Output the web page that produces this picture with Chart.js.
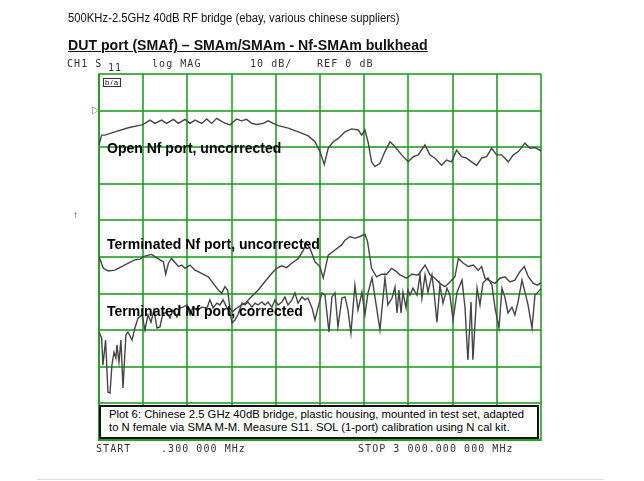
<!DOCTYPE html>
<html>
<head>
<meta charset="utf-8">
<script src="https://cdn.jsdelivr.net/npm/chart.js@4/dist/chart.umd.min.js"></script>
<style>
  body { margin: 0; background: #fff; }
  #wrap { position: relative; width: 644px; height: 481px; overflow: hidden; font-family: 'Liberation Sans', Arial, sans-serif; }
  #chart { position: absolute; left: 0; top: 0; }
  .t { position: absolute; white-space: nowrap; color: #111; transform-origin: 0 0; }
  .mono { font-family: 'DejaVu Sans Mono', monospace; font-size: 10px; color: #333; letter-spacing: 1.05px; }
  .lbl { font-weight: bold; font-size: 14px; color: #000; }
  #caption { position: absolute; left: 99px; top: 405px; width: 428px; height: 29px; background: #fff; border: 2px solid #111; font-size: 11.3px; line-height: 13px; padding: 1px 0 0 8px; box-sizing: content-box; white-space: nowrap; }
</style>
</head>
<body>
<div id="wrap">
  <canvas id="chart" width="644" height="481"></canvas>
  <div class="t" style="left:68px;top:11px;font-size:12px;transform:scaleX(0.94);">500KHz-2.5GHz 40dB RF bridge (ebay, various chinese suppliers)</div>
  <div class="t" style="left:68px;top:37px;font-size:14.5px;font-weight:bold;text-decoration:underline;transform:scaleX(0.975);">DUT port (SMAf) – SMAm/SMAm - Nf-SMAm bulkhead</div>
  <div class="t mono" style="left:67px;top:58px;">CH1 S</div>
  <div class="t mono" style="left:108px;top:62px;">11</div>
  <div class="t mono" style="left:152px;top:58px;">log MAG</div>
  <div class="t mono" style="left:250px;top:58px;">10 dB/</div>
  <div class="t mono" style="left:317px;top:58px;">REF 0 dB</div>
  <div class="t" style="left:103px;top:78px;font-size:8px;border:1px solid #333;line-height:7px;padding:0 1px;letter-spacing:1px;">b/a</div>
  <div class="t" style="left:92px;top:104px;font-size:10px;color:#3a3;">&#9655;</div>
  <div class="t" style="left:73px;top:209px;font-size:10px;color:#333;">&#8593;</div>
  <div class="t lbl" style="left:107px;top:140px;">Open Nf port, uncorrected</div>
  <div class="t lbl" style="left:107px;top:236px;">Terminated Nf port, uncorrected</div>
  <div class="t lbl" style="left:107px;top:303px;">Terminated Nf port, corrected</div>
  <div id="caption">Plot 6: Chinese 2.5 GHz 40dB bridge, plastic housing, mounted in test set, adapted<br>to N female via SMA M-M. Measure S11. SOL (1-port) calibration using N cal kit.</div>
  <div class="t mono" style="left:96px;top:443px;">START</div>
  <div class="t mono" style="left:161px;top:443px;">.300 000 MHz</div>
  <div class="t mono" style="left:358px;top:443px;">STOP 3 000.000 000 MHz</div>
  <div style="position:absolute;left:37px;top:479px;width:567px;height:1px;background:#ddd;"></div>
</div>
<script>
const startMHz = 0.3
const stopMHz = 3000
const refDb = 0
const dbPerDiv = 10

const openFreq = [0.3, 18, 41, 109, 199, 290, 312, 346, 380, 425, 459, 505, 539, 584, 618, 652, 697, 731, 765, 799,
  844, 889, 934, 968, 1002, 1036, 1070, 1115, 1149, 1183, 1217, 1285, 1353, 1421, 1466, 1500, 1529, 1556, 1590, 1624,
  1670, 1715, 1760, 1783, 1805, 1828, 1850, 1873, 1907, 1941, 1975, 2009, 2054, 2099, 2133, 2167, 2212, 2246, 2280, 2326,
  2359, 2393, 2427, 2461, 2495, 2529, 2563, 2597, 2631, 2665, 2699, 2733, 2778, 2812, 2846, 2891, 2925, 2959, 3000]
const openDb = [-9.4, -6.7, -6.7, -5.8, -4.7, -3.9, -3.5, -2.6, -3.5, -2.6, -3.5, -2.4, -3.5, -2.4, -3.5, -2.6, -3.5, -2.3, -3.5, -2.1,
  -3.2, -3.9, -2.3, -2.8, -2.4, -3.5, -3.8, -3.5, -2.8, -3.5, -4.1, -4.8, -5.8, -6.9, -8.5, -11.2, -14.7, -10.3, -8.5, -7.6,
  -5.8, -5.0, -5.3, -6.7, -5.3, -8.9, -14.0, -15.3, -14.4, -11.2, -8.5, -9.9, -12.1, -14.0, -12.6, -12.1, -9.4, -12.1, -13.0, -14.9,
  -13.5, -14.0, -10.8, -12.6, -13.0, -14.0, -15.0, -13.0, -12.6, -10.3, -12.1, -12.1, -14.0, -12.1, -11.2, -8.9, -10.3, -10.1, -11.0]

const termFreq = [0.3, 29.5, 63, 109, 154, 199, 244, 278, 301, 335, 358, 380, 414, 437, 453, 471, 493, 516, 539, 561,
  584, 618, 652, 697, 742, 776, 810, 833, 855, 873, 889, 905, 934, 968, 991, 1036, 1081, 1127, 1172, 1206,
  1240, 1274, 1308, 1353, 1387, 1409, 1432, 1466, 1500, 1522, 1556, 1602, 1647, 1670, 1703, 1737, 1771, 1805, 1823, 1850,
  1884, 1918, 1952, 1986, 2020, 2043, 2088, 2122, 2167, 2213, 2247, 2280, 2314, 2348, 2382, 2416, 2439, 2473, 2507, 2541,
  2574, 2597, 2620, 2665, 2688, 2722, 2755, 2789, 2823, 2857, 2887, 2914, 2948, 2977, 3000]
const termDb = [-39.9, -43.1, -43.8, -43.6, -42.6, -41.7, -40.8, -40.6, -39.9, -39.5, -39.3, -39.9, -40.8, -41.3, -44.7, -41.7, -40.4, -41.5, -42.6, -42.2,
  -43.1, -42.2, -43.6, -44.5, -45.4, -47.2, -49.0, -49.9, -48.1, -49.0, -54.0, -55.0, -54.0, -53.1, -52.7, -50.8, -49.0, -46.7, -44.5, -43.1,
  -42.4, -42.9, -41.7, -40.4, -38.1, -36.3, -37.6, -41.3, -42.6, -45.7, -39.5, -38.1, -36.7, -35.4, -34.4, -34.9, -34.4, -33.8, -35.8, -43.1,
  -45.4, -44.7, -44.7, -43.1, -44.0, -44.9, -45.8, -44.7, -44.9, -42.2, -44.9, -45.8, -47.2, -48.1, -46.8, -45.4, -40.4, -41.7, -42.6, -42.2,
  -43.6, -42.6, -45.8, -46.8, -47.2, -45.8, -45.4, -46.8, -46.3, -44.0, -42.6, -45.4, -47.2, -47.7, -47.0]

const corrFreq = [0.3, 18, 27, 45, 61, 75, 88, 102, 115, 122, 136, 149, 163, 183, 197, 224, 244, 265, 292, 312,
  333, 353, 373, 394, 414, 434, 462, 482, 502, 529, 550, 570, 597, 618, 638, 665, 699, 733, 753, 774,
  801, 821, 842, 869, 889, 903, 923, 943, 971, 991, 1011, 1038, 1059, 1079, 1106, 1127, 1147, 1174, 1195, 1215,
  1242, 1262, 1283, 1310, 1330, 1351, 1378, 1398, 1418, 1446, 1466, 1486, 1514, 1534, 1561, 1581, 1602, 1622, 1649, 1670,
  1690, 1710, 1737, 1758, 1785, 1805, 1826, 1853, 1873, 1907, 1941, 1961, 1989, 2009, 2023, 2036, 2050, 2063, 2084, 2097,
  2111, 2131, 2158, 2179, 2192, 2213, 2233, 2260, 2274, 2294, 2314, 2335, 2362, 2382, 2403, 2430, 2464, 2484, 2504, 2525,
  2538, 2566, 2586, 2606, 2640, 2667, 2688, 2715, 2735, 2756, 2776, 2803, 2823, 2844, 2871, 2891, 2912, 2939, 2959, 2979, 3000]
const corrDb = [-60.5, -62.1, -69.5, -62.7, -76.9, -77.2, -69.5, -66.0, -67.6, -64.0, -68.7, -62.7, -75.8, -61.3, -60.5, -62.7, -59.4, -56.7, -55.8, -59.9,
  -55.8, -57.8, -54.5, -59.4, -59.1, -55.3, -55.3, -56.7, -54.5, -56.4, -53.9, -53.7, -53.1, -55.8, -53.7, -54.5, -53.7, -53.9, -51.7, -53.9,
  -52.6, -53.1, -51.7, -53.9, -55.0, -58.0, -57.2, -55.8, -52.6, -53.1, -52.3, -53.7, -52.6, -53.1, -52.3, -53.1, -52.3, -53.7, -51.7, -53.1,
  -52.3, -50.9, -53.1, -51.7, -49.8, -52.6, -50.9, -51.7, -51.2, -53.9, -57.2, -53.9, -49.8, -50.4, -60.5, -50.9, -49.8, -59.1, -51.2, -50.9,
  -54.5, -60.8, -47.7, -54.5, -49.6, -55.8, -49.8, -45.7, -50.9, -59.9, -45.7, -53.1, -51.2, -48.2, -55.3, -49.0, -55.3, -49.6, -53.9, -49.0,
  -50.4, -48.5, -50.4, -44.9, -51.2, -44.9, -49.6, -44.9, -49.6, -57.8, -47.7, -52.6, -48.5, -50.4, -57.2, -49.6, -46.3, -53.7, -68.1, -52.3,
  -68.1, -48.5, -53.1, -47.1, -45.7, -47.7, -53.9, -59.4, -48.5, -51.2, -55.3, -53.7, -55.8, -52.3, -46.3, -49.6, -53.1, -59.4, -50.4, -49.6, -48.7]

function toPoints(freq, db) {
  return freq.map((f, i) => ({ x: f, y: db[i] }))
}

function traceSet(freq, db) {
  return {
    data: toPoints(freq, db),
    showLine: true,
    borderColor: '#454545',
    borderWidth: 1.4,
    pointRadius: 0,
    tension: 0
  }
}

const gridGreen = 'rgba(30,155,30,0.78)'

new Chart(document.getElementById('chart'), {
  type: 'scatter',
  data: {
    datasets: [
      traceSet(openFreq, openDb),
      traceSet(termFreq, termDb),
      traceSet(corrFreq, corrDb)
    ]
  },
  options: {
    responsive: false,
    animation: false,
    layout: { padding: { left: 99, top: 74, right: 103, bottom: 41 } },
    plugins: { legend: { display: false }, tooltip: { enabled: false } },
    scales: {
      x: {
        type: 'linear',
        min: startMHz,
        max: stopMHz,
        afterBuildTicks: axis => {
          const step = (stopMHz - startMHz) / 10
          axis.ticks = Array.from({ length: 11 }, (_, i) => ({ value: startMHz + i * step }))
        },
        ticks: { display: false },
        grid: { color: gridGreen, lineWidth: 2, drawTicks: false },
        border: { color: gridGreen, width: 2 }
      },
      y: {
        min: refDb - 9 * dbPerDiv,
        max: refDb + dbPerDiv,
        ticks: { display: false, stepSize: dbPerDiv },
        grid: { color: gridGreen, lineWidth: 2, drawTicks: false },
        border: { color: gridGreen, width: 2 }
      }
    }
  }
})
</script>
</body>
</html>
